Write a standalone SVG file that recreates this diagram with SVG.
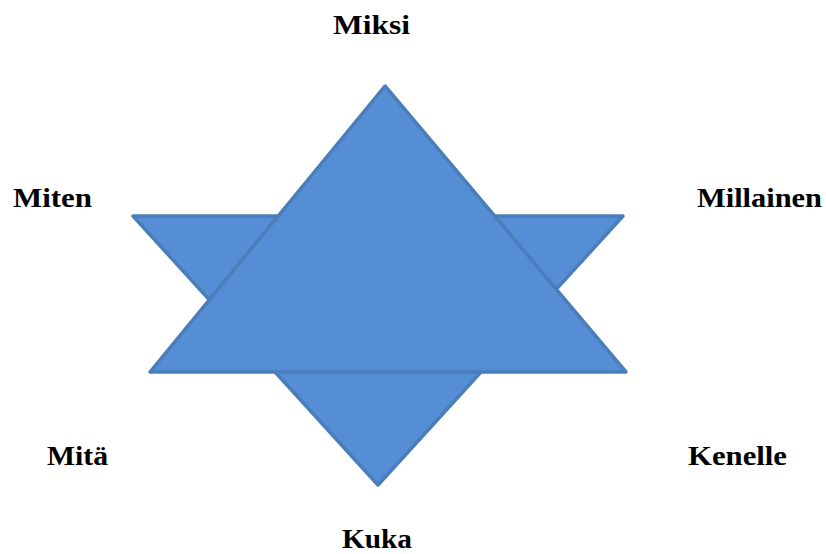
<svg xmlns="http://www.w3.org/2000/svg" width="826" height="554" viewBox="0 0 826 554">
<style>
.t{font-family:"Liberation Serif","Times New Roman",serif;font-weight:bold;font-size:27px;fill:#000}
.tri{fill:#558ED5;stroke:#4A7EBB;stroke-width:3.5;stroke-linejoin:round}
</style>
<rect width="826" height="554" fill="#fff"/>
<g id="down-triangle"><polygon class="tri" points="133,216 623,216 378,485"/></g>
<g id="up-triangle"><polygon class="tri" points="385,86 150,372 626,372"/></g>
<g id="miksi"><text class="t" x="333" y="34" textLength="77" lengthAdjust="spacingAndGlyphs">Miksi</text></g>
<g id="miten"><text class="t" x="13" y="207" textLength="79" lengthAdjust="spacingAndGlyphs">Miten</text></g>
<g id="millainen"><text class="t" x="697" y="207" textLength="125" lengthAdjust="spacingAndGlyphs">Millainen</text></g>
<g id="mita"><text class="t" x="47" y="465" textLength="61" lengthAdjust="spacingAndGlyphs">Mitä</text></g>
<g id="kenelle"><text class="t" x="688" y="465" textLength="99" lengthAdjust="spacingAndGlyphs">Kenelle</text></g>
<g id="kuka"><text class="t" x="342" y="548" textLength="70" lengthAdjust="spacingAndGlyphs">Kuka</text></g>
<g id="connectors"></g>
</svg>
